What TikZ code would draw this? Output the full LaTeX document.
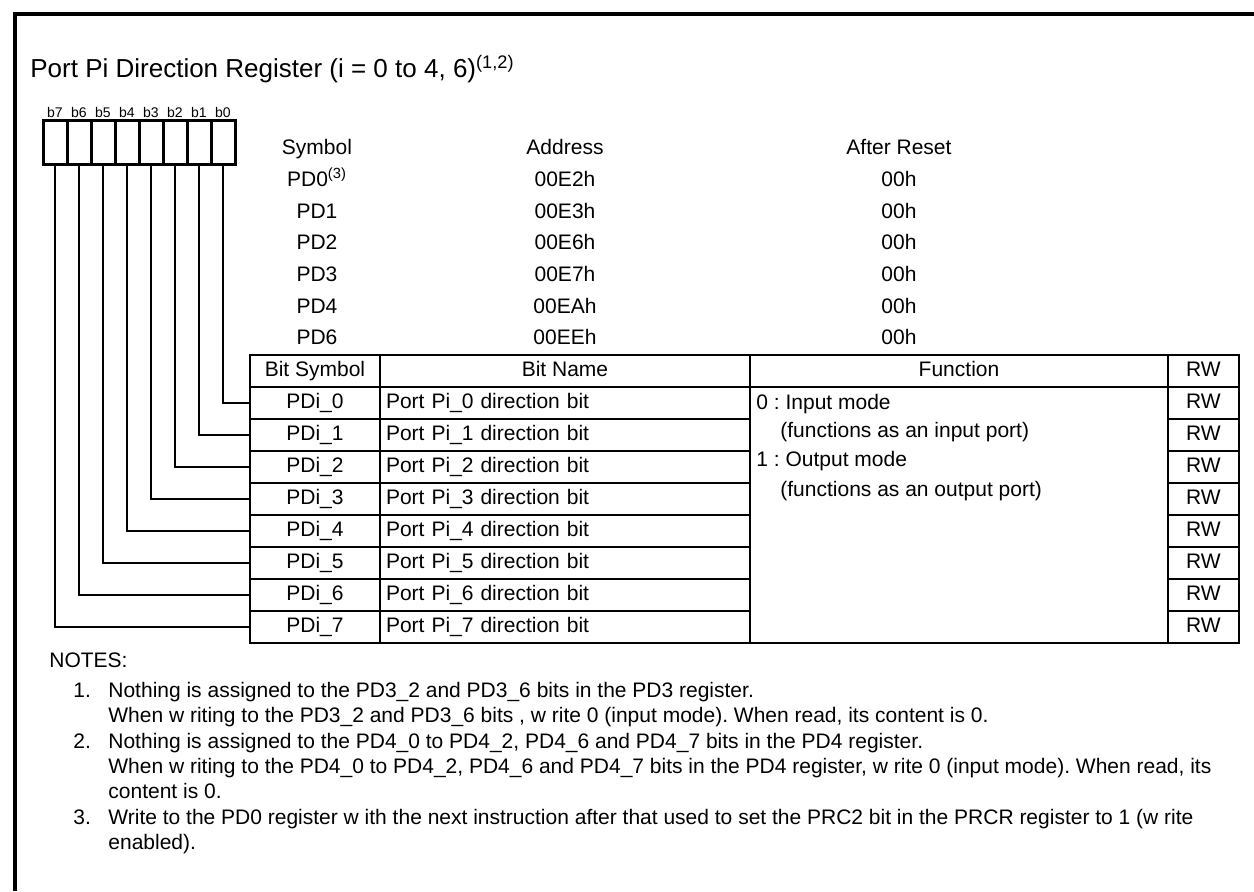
\documentclass[tikz,border=0pt]{standalone}
\usepackage{fontspec}
\setmainfont{Liberation Sans}
\usepackage{tikz}
\frenchspacing

\begin{document}
\begin{tikzpicture}[x=0.5pt, y=-0.5pt,
    txt/.style={font=\fontsize{10.5}{12.6}\selectfont, inner sep=0pt},
    bitcell/.style={draw, line width=1.5pt, minimum width=12pt, minimum height=22pt, inner sep=0pt, label distance=2pt},
    bitlabel/.style={font=\fontsize{7}{8}\selectfont, inner sep=0pt},
    tabcell/.style={draw, line width=1.2pt, minimum height=16pt, inner ysep=0pt, inner xsep=3pt, font=\fontsize{10.5}{12.6}\selectfont, text height=7.6pt, text depth=2.2pt},
    namecell/.style={tabcell, text width=179pt, align=left},
    wire/.style={line width=1pt}]

    \useasboundingbox (0,0) rectangle (1254,891);
    \draw[line width=1.6pt] (15,891) -- (15,14) -- (1254,14);
    \node[anchor=base west, font=\fontsize{13}{15}\selectfont, inner sep=0pt] (title) at (30,77) {Port Pi Direction Register (i = 0 to 4, 6)\textsuperscript{(1,2)}};
%____________________________________________________________________________________________________
    \node[bitcell, label={[bitlabel]above:b7}] (c7) at (55,142) {};
    \node[bitcell, label={[bitlabel]above:b6}] (c6) at (79,142) {};
    \node[bitcell, label={[bitlabel]above:b5}] (c5) at (103,142) {};
    \node[bitcell, label={[bitlabel]above:b4}] (c4) at (127,142) {};
    \node[bitcell, label={[bitlabel]above:b3}] (c3) at (151,142) {};
    \node[bitcell, label={[bitlabel]above:b2}] (c2) at (175,142) {};
    \node[bitcell, label={[bitlabel]above:b1}] (c1) at (199,142) {};
    \node[bitcell, label={[bitlabel]above:b0}] (c0) at (223,142) {};
%____________________________________________________________________________________________________
    \node[txt, anchor=base] (sym) at (317,154.5) {Symbol};
    \node[txt, anchor=base] (addr) at (565,154.5) {Address};
    \node[txt, anchor=base] (rst) at (899,154.5) {After Reset};

    \node[txt, anchor=base] (pd0) at (317,186) {PD0\textsuperscript{(3)}};
    \node[txt, anchor=base] (a0) at (565,186) {00E2h};
    \node[txt, anchor=base] (r0) at (899,186) {00h};

    \node[txt, anchor=base] (pd1) at (317,218) {PD1};
    \node[txt, anchor=base] (a1) at (565,218) {00E3h};
    \node[txt, anchor=base] (r1) at (899,218) {00h};

    \node[txt, anchor=base] (pd2) at (317,249.5) {PD2};
    \node[txt, anchor=base] (a2) at (565,249.5) {00E6h};
    \node[txt, anchor=base] (r2) at (899,249.5) {00h};

    \node[txt, anchor=base] (pd3) at (317,281) {PD3};
    \node[txt, anchor=base] (a3) at (565,281) {00E7h};
    \node[txt, anchor=base] (r3) at (899,281) {00h};

    \node[txt, anchor=base] (pd4) at (317,313) {PD4};
    \node[txt, anchor=base] (a4) at (565,313) {00EAh};
    \node[txt, anchor=base] (r4) at (899,313) {00h};

    \node[txt, anchor=base] (pd6) at (317,344.5) {PD6};
    \node[txt, anchor=base] (a6) at (565,344.5) {00EEh};
    \node[txt, anchor=base] (r6) at (899,344.5) {00h};
%____________________________________________________________________________________________________
    \node[tabcell, minimum width=65pt] (hsym) at (315,371) {Bit Symbol};
    \node[tabcell, minimum width=185pt] (hname) at (565,371) {Bit Name};
    \node[tabcell, minimum width=209pt] (hfun) at (959,371) {Function};
    \node[tabcell, minimum width=35.5pt] (hrw) at (1203.5,371) {RW};

    \node[tabcell, minimum width=65pt] (s0) at (315,403) {PDi\_0};
    \node[namecell] (n0) at (565,403) {Port Pi\_0 direction bit};
    \node[tabcell, minimum width=35.5pt] (w0) at (1203.5,403) {RW};

    \node[tabcell, minimum width=65pt] (s1) at (315,435) {PDi\_1};
    \node[namecell] (n1) at (565,435) {Port Pi\_1 direction bit};
    \node[tabcell, minimum width=35.5pt] (w1) at (1203.5,435) {RW};

    \node[tabcell, minimum width=65pt] (s2) at (315,467) {PDi\_2};
    \node[namecell] (n2) at (565,467) {Port Pi\_2 direction bit};
    \node[tabcell, minimum width=35.5pt] (w2) at (1203.5,467) {RW};

    \node[tabcell, minimum width=65pt] (s3) at (315,499) {PDi\_3};
    \node[namecell] (n3) at (565,499) {Port Pi\_3 direction bit};
    \node[tabcell, minimum width=35.5pt] (w3) at (1203.5,499) {RW};

    \node[tabcell, minimum width=65pt] (s4) at (315,531) {PDi\_4};
    \node[namecell] (n4) at (565,531) {Port Pi\_4 direction bit};
    \node[tabcell, minimum width=35.5pt] (w4) at (1203.5,531) {RW};

    \node[tabcell, minimum width=65pt] (s5) at (315,563) {PDi\_5};
    \node[namecell] (n5) at (565,563) {Port Pi\_5 direction bit};
    \node[tabcell, minimum width=35.5pt] (w5) at (1203.5,563) {RW};

    \node[tabcell, minimum width=65pt] (s6) at (315,595) {PDi\_6};
    \node[namecell] (n6) at (565,595) {Port Pi\_6 direction bit};
    \node[tabcell, minimum width=35.5pt] (w6) at (1203.5,595) {RW};

    \node[tabcell, minimum width=65pt] (s7) at (315,627) {PDi\_7};
    \node[namecell] (n7) at (565,627) {Port Pi\_7 direction bit};
    \node[tabcell, minimum width=35.5pt] (w7) at (1203.5,627) {RW};

    \node[draw, line width=1.2pt, minimum width=209pt, minimum height=128pt, inner sep=0pt] (func) at (959,515) {};
    \node[txt, anchor=base west] (f0) at (756,409) {0 : Input mode};
    \node[txt, anchor=base west] (f1) at (780,437) {(functions as an input port)};
    \node[txt, anchor=base west] (f2) at (756,466) {1 : Output mode};
    \node[txt, anchor=base west] (f3) at (780,496) {(functions as an output port)};
%____________________________________________________________________________________________________
    \draw[wire] (c0.south) |- (s0.west);
    \draw[wire] (c1.south) |- (s1.west);
    \draw[wire] (c2.south) |- (s2.west);
    \draw[wire] (c3.south) |- (s3.west);
    \draw[wire] (c4.south) |- (s4.west);
    \draw[wire] (c5.south) |- (s5.west);
    \draw[wire] (c6.south) |- (s6.west);
    \draw[wire] (c7.south) |- (s7.west);
%____________________________________________________________________________________________________
    \node[txt, anchor=base west] (notes) at (49,667) {NOTES:};
    \node[txt, anchor=base west] (k1) at (73,697) {1.};
    \node[txt, anchor=base west] (t1a) at (108,697) {Nothing is assigned to the PD3\_2 and PD3\_6 bits in the PD3 register.};
    \node[txt, anchor=base west] (t1b) at (108,722) {When w riting to the PD3\_2 and PD3\_6 bits , w rite 0 (input mode). When read, its content is 0.};
    \node[txt, anchor=base west] (k2) at (73,748) {2.};
    \node[txt, anchor=base west] (t2a) at (108,748) {Nothing is assigned to the PD4\_0 to PD4\_2, PD4\_6 and PD4\_7 bits in the PD4 register.};
    \node[txt, anchor=base west] (t2b) at (108,773) {When w riting to the PD4\_0 to PD4\_2, PD4\_6 and PD4\_7 bits in the PD4 register, w rite 0 (input mode). When read, its};
    \node[txt, anchor=base west] (t2c) at (108,798) {content is 0.};
    \node[txt, anchor=base west] (k3) at (73,824) {3.};
    \node[txt, anchor=base west] (t3a) at (108,824) {Write to the PD0 register w ith the next instruction after that used to set the PRC2 bit in the PRCR register to 1 (w rite};
    \node[txt, anchor=base west] (t3b) at (108,849) {enabled).};
\end{tikzpicture}
\end{document}
